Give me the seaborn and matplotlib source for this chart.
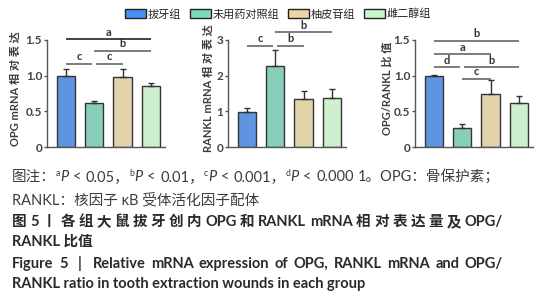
import numpy as np
import pandas as pd
import matplotlib
matplotlib.use("Agg")
import matplotlib.pyplot as plt
import seaborn as sns
from matplotlib.patches import Patch

# ---------------- data ----------------
groups = ["拔牙组", "未用药对照组", "柚皮苷组", "雌二醇组"]
opg_mean = [1.00, 0.61, 0.98, 0.86]
opg_sd = [0.10, 0.03, 0.12, 0.04]
rankl_mean = [0.97, 2.28, 1.34, 1.38]
rankl_sd = [0.11, 0.44, 0.24, 0.24]
ratio_mean = [1.00, 0.27, 0.74, 0.62]
ratio_sd = [0.01, 0.05, 0.20, 0.09]

opg_ticks = [0, 0.5, 1.0, 1.5]
opg_ticklabels = ["0", "0.5", "1.0", "1.5"]
rankl_ticks = [0, 1, 2, 3]
rankl_ticklabels = ["0", "1", "2", "3"]
ratio_ticks = [0, 0.5, 1.0, 1.5]
ratio_ticklabels = ["0", "0.5", "1.0", "1.5"]

# significance brackets: (group i, group j, level, letter)
opg_sig = [(0, 3, 1.51, "a"), (1, 3, 1.35, "b"), (0, 1, 1.17, "c"), (1, 2, 1.17, "c")]
rankl_sig = [(1, 3, 3.23, "b"), (0, 1, 2.84, "c"), (1, 2, 2.84, "b")]
ratio_sig = [(0, 3, 1.49, "b"), (0, 2, 1.30, "a"), (0, 1, 1.12, "d"),
             (1, 3, 1.12, "b"), (1, 2, 0.96, "c")]

ylabels = ["OPG mRNA 相 对 表 达", "RANKL mRNA 相 对 表 达", "OPG/RANKL 比 值"]

caption_l2 = "RANKL：核因子 κB 受体活化因子配体"
caption_l3 = "图 5 丨 各 组 大 鼠 拔 牙 创 内 OPG 和 RANKL mRNA 相 对 表 达 量 及 OPG/"
caption_l4 = "RANKL 比值"
caption_l5 = "Figure 5  |  Relative mRNA expression of OPG, RANKL mRNA and OPG/"
caption_l6 = "RANKL ratio in tooth extraction wounds in each group"

palette = ["#4b8ff6", "#7bdbbf", "#e9d6a1", "#c8f6c8"]

# ---------------- style ----------------
sns.set_style("ticks")
FAM = ["Lato", "Noto Sans CJK SC", "DejaVu Sans"]
plt.rcParams["font.family"] = FAM
plt.rcParams["axes.unicode_minus"] = False

W_PX, H_PX = 559, 300
fig = plt.figure(figsize=(W_PX / 100, H_PX / 100), dpi=100)
fig.patch.set_facecolor("white")

def px_axes(left, top, right, bottom):
    return fig.add_axes([left / W_PX, 1 - bottom / H_PX,
                         (right - left) / W_PX, (bottom - top) / H_PX])

panels = [
    (px_axes(47, 40, 165, 147), opg_mean, opg_sd, opg_ticks, opg_ticklabels, 1.5, opg_sig, 0, -0.22),
    (px_axes(228, 40, 346, 147), rankl_mean, rankl_sd, rankl_ticks, rankl_ticklabels, 3.0, rankl_sig, 1, -0.119),
    (px_axes(415, 40, 533, 147), ratio_mean, ratio_sd, ratio_ticks, ratio_ticklabels, 1.5, ratio_sig, 2, -0.19),
]

TXT = "#3c3c3c"
for ax, mean, sd, ticks, tlabels, ytop, sig, k, labx in panels:
    df = pd.DataFrame({"group": groups, "value": mean})
    sns.barplot(data=df, x="group", y="value", hue="group", palette=palette,
                order=groups, hue_order=groups, errorbar=None, width=0.64,
                edgecolor="#333333", linewidth=1.0, legend=False, ax=ax)
    xs = np.arange(len(groups))
    ax.errorbar(xs, mean, yerr=[np.zeros(len(sd)), sd], fmt="none",
                ecolor="#333333", elinewidth=1.0, capsize=2.5, capthick=1.0, zorder=1)
    ax.set_xlim(-0.67, 3.5)
    ax.set_ylim(0, ytop)
    ax.set_yticks(ticks)
    ax.set_yticklabels(tlabels, fontsize=8.5, fontweight="bold", color="#444444")
    ax.set_xticks([])
    ax.set_xlabel("")
    ax.set_ylabel(ylabels[k], fontsize=8, fontweight="bold", color=TXT)
    ax.yaxis.set_label_coords(labx, 0.55)
    for side in ("top", "right"):
        ax.spines[side].set_visible(False)
    for side in ("left", "bottom"):
        ax.spines[side].set_color("#555555")
        ax.spines[side].set_linewidth(1.0)
    ax.tick_params(axis="y", length=2.5, width=1.0, color="#555555", pad=1.0)
    ax.set_facecolor("none")
    # brackets
    for n, (i, j, lev, lab) in enumerate(sig):
        x0, x1 = float(i), float(j)
        for (i2, j2, lev2, _) in sig:
            if lev2 == lev and j2 == i:
                x0 += 0.07
            if lev2 == lev and i2 == j:
                x1 -= 0.07
        col = "#222222" if (k == 0 and n == 0) else "#666666"
        ax.plot([x0, x1], [lev, lev], color=col, lw=1.2, clip_on=False,
                solid_capstyle="butt")
        ax.text((x0 + x1) / 2, lev + ytop * 0.012, lab, ha="center", va="bottom",
                fontsize=8, fontweight="bold", color="#333333", clip_on=False)

# legend
handles = [Patch(facecolor=c, edgecolor="#222222", linewidth=1.0, label=g)
           for c, g in zip(palette, groups)]
fig.legend(handles=handles, loc="center", bbox_to_anchor=(278 / W_PX, 1 - 14 / H_PX),
           ncol=4, frameon=False, fontsize=8, handlelength=1.9, handleheight=0.9,
           handletextpad=0.15, columnspacing=0.8, borderpad=0.1)

# ---------------- caption ----------------
renderer = fig.canvas.get_renderer()

def adv(s, **kw):
    a = fig.text(0, 0, s + "x", **kw)
    b = fig.text(0, 0, "x", **kw)
    w = a.get_window_extent(renderer).width - b.get_window_extent(renderer).width
    a.remove(); b.remove()
    return w

def draw_runs(x, y, runs, target=None):
    clean = []
    for s, kw in runs:
        kw = dict(kw)
        dy = kw.pop("dy", 0)
        clean.append((s, kw, dy, adv(s, **kw)))
    extra = 0.0
    if target is not None:
        nat = sum(c[3] for c in clean)
        nsp = sum(c[0].count(" ") for c in clean)
        extra = (target - x - nat) / max(nsp, 1)
    for s, kw, dy, w in clean:
        if extra > 0 and " " in s:
            parts = s.split(" ")
            for pi, p in enumerate(parts):
                if p:
                    fig.text(x / W_PX, 1 - (y - dy) / H_PX, p, ha="left", va="baseline", **kw)
                    x += adv(p, **kw)
                if pi < len(parts) - 1:
                    x += adv(" ", **kw) + extra
        else:
            fig.text(x / W_PX, 1 - (y - dy) / H_PX, s, ha="left", va="baseline", **kw)
            x += w
    return x

def draw_justified(x0, x1, y, s, **kw):
    words = s.split(" ")
    widths = [adv(w, **kw) if w else 0 for w in words]
    gap = (x1 - x0 - sum(widths)) / max(len(words) - 1, 1)
    x = x0
    for w, wd in zip(words, widths):
        if w:
            fig.text(x / W_PX, 1 - y / H_PX, w, ha="left", va="baseline", **kw)
        x += wd + gap

FS = 10.5
nrm = dict(fontsize=FS, color=TXT)
it = dict(fontsize=FS, color=TXT, fontstyle="italic")
sup = dict(fontsize=FS * 0.6, color=TXT, dy=4.5)
line1 = [("图注：", nrm), ("a", sup), ("P", it), (" < 0.05，", nrm),
         ("b", sup), ("P", it), (" < 0.01，", nrm),
         ("c", sup), ("P", it), (" < 0.001，", nrm),
         ("d", sup), ("P", it), (" < 0.000 1。OPG：骨保护素；", nrm)]
draw_runs(12, 181, line1, target=500)
fig.text(12 / W_PX, 1 - 204 / H_PX, caption_l2, ha="left", va="baseline", **nrm)
bold = dict(fontsize=FS, color="#2a2a2a", fontweight="bold")
draw_justified(12, 503, 226, caption_l3, **bold)
fig.text(12 / W_PX, 1 - 246 / H_PX, caption_l4, ha="left", va="baseline", **bold)
draw_justified(12, 503, 268, caption_l5, **bold)
fig.text(12 / W_PX, 1 - 288 / H_PX, caption_l6, ha="left", va="baseline", **bold)

fig.savefig("out.png", dpi=100, facecolor="white")
